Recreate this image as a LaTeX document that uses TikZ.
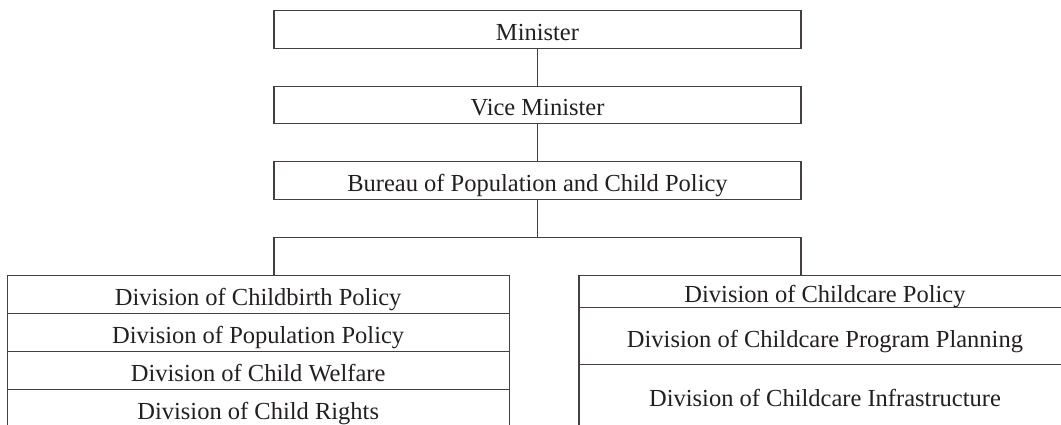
\documentclass[tikz,border=0pt]{standalone}
\usepackage{fontspec}
\setmainfont{Liberation Serif}
\usetikzlibrary{positioning}
\definecolor{linegray}{HTML}{463F40}
\definecolor{inkblack}{HTML}{231F20}
\tikzset{every path/.style={color=linegray, line width=1.1pt},
  office/.style={draw=linegray, line width=1.1pt, rectangle, inner sep=0pt, outer sep=0pt,
    text=inkblack, text height=22pt, text depth=0pt, font=\fontsize{24.5}{28}\selectfont},
  top/.style={office, minimum width=527pt, minimum height=37.7pt},
  lrow/.style={office, minimum width=501.7pt, minimum height=38pt},
  rrow/.style={office, minimum width=492pt}}

\begin{document}
\begin{tikzpicture}[x=1pt,y=-1pt]
       \useasboundingbox (0,0) rectangle (1061,425);
       \begin{scope}
        \node[top] (minister) at (537.5, 29.3) {Minister};
        \node[top] (vice)     at (537.5,105.0) {Vice Minister};
        \node[top] (bureau)   at (537.5,180.5) {Bureau of Population and Child Policy};
        \coordinate (bar) at ([yshift=-37.8pt]bureau.south);
       \end{scope}
       \begin{scope}
        \node[lrow, anchor=north] (birth) at (258.2,275.3) {Division of Childbirth Policy};
        \node[lrow, below=0pt of birth]      (population) {Division of Population Policy};
        \node[lrow, below=0pt of population] (welfare)    {Division of Child Welfare};
        \node[lrow, below=0pt of welfare]    (rights)     {Division of Child Rights};
       \end{scope}
       \begin{scope}
        \node[rrow, minimum height=32.4pt, anchor=north] (care) at (825,275.3) {Division of Childcare Policy};
        \node[rrow, minimum height=57pt, below=0pt of care]     (program) {Division of Childcare Program Planning};
        \node[rrow, minimum height=62pt, below=0pt of program] (infra)   {Division of Childcare Infrastructure};
       \end{scope}
       \draw (minister) -- (vice);
       \draw (vice) -- (bureau);
       \draw (bureau) -- (bar);
       \draw (birth.north -| bureau.west) |- (bar) -| (care.north -| bureau.east);
      \end{tikzpicture}
\end{document}
